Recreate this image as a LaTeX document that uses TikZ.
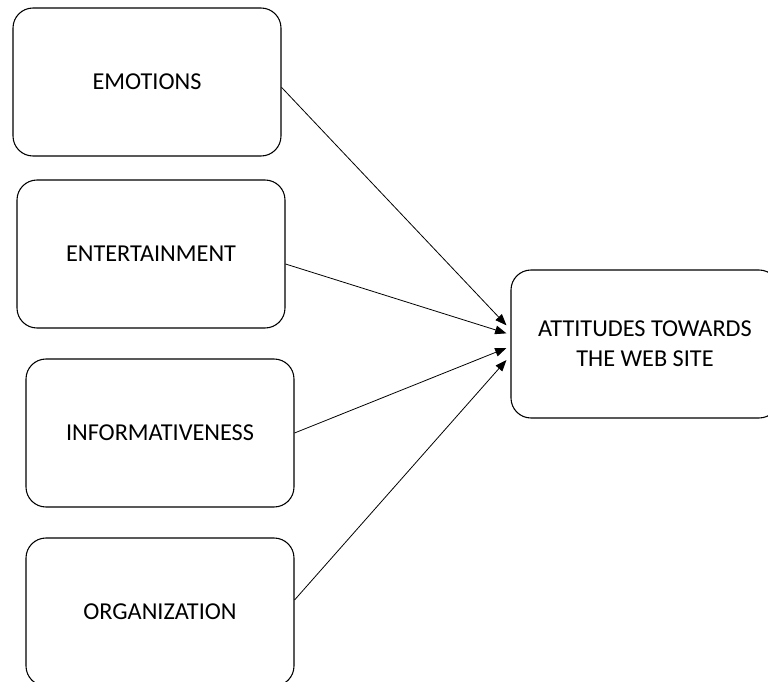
\documentclass[tikz,border=0pt]{standalone}
\usepackage{fontspec}
\setmainfont{Carlito}
\usetikzlibrary{arrows.meta}

\begin{document}
\begin{tikzpicture}[x=0.75pt, y=-0.75pt,
  box/.style={draw, line width=0.8pt, rounded corners=15pt, minimum width=201pt,
    minimum height=111pt, align=center, font=\fontsize{18.2}{22.5}\selectfont},
  link/.style={-{Triangle[length=8.5pt,width=6.5pt]}, line width=0.6pt}]
  \useasboundingbox (0,0) rectangle (768,682);
  \node[box] (emo) at (147,82) {EMOTIONS};
  \node[box] (ent) at (151,254) {ENTERTAINMENT};
  \node[box] (inf) at (160,433) {INFORMATIVENESS};
  \node[box] (org) at (160,612) {ORGANIZATION};
  \node[box] (att) at (645,344) {ATTITUDES TOWARDS\\THE WEB SITE};
  \foreach \src/\a/\b in {emo/-4/14, ent/-7.5/8, inf/0/-3, org/9/-12}
    \draw[link] ([yshift=\a pt]\src.east) -- ([xshift=-3pt, yshift=\b pt]att.west);
\end{tikzpicture}
\end{document}
